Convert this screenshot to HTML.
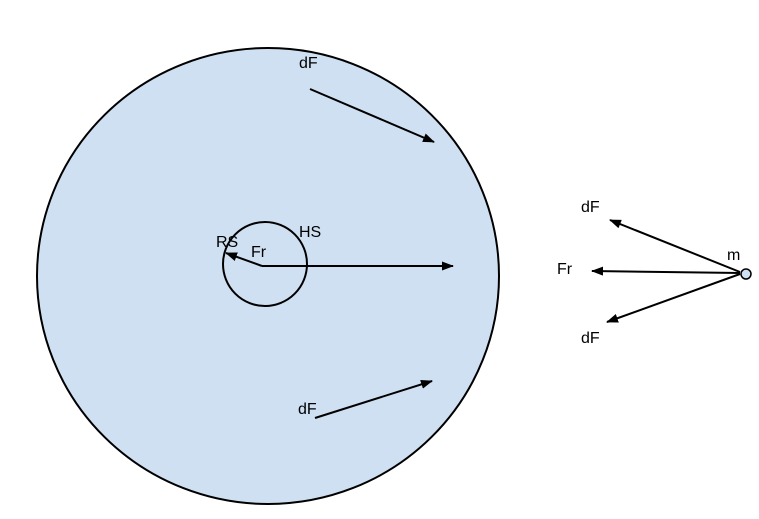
<!DOCTYPE html>
<html><head><meta charset="utf-8"><style>
html,body{margin:0;padding:0;background:#fff;width:759px;height:519px;overflow:hidden}
text{font-family:"Liberation Sans",sans-serif;font-size:16px;fill:#000}
</style></head><body>
<svg width="759" height="519" viewBox="0 0 759 519">
<defs><marker id="a" markerWidth="12" markerHeight="9" refX="11" refY="4.5" orient="auto" markerUnits="userSpaceOnUse"><path d="M0,0 L12,4.5 L0,9 z" fill="#000"/></marker></defs>
<ellipse cx="268" cy="276" rx="231" ry="228" fill="#cfe0f2" stroke="#000" stroke-width="2"/>
<circle cx="265" cy="264" r="42" fill="none" stroke="#000" stroke-width="2"/>
<g stroke="#000" stroke-width="2" fill="none">
<line x1="310" y1="89" x2="434" y2="142" marker-end="url(#a)"/>
<line x1="315" y1="418" x2="432" y2="381" marker-end="url(#a)"/>
<line x1="262" y1="266" x2="453" y2="266" marker-end="url(#a)"/>
<line x1="262" y1="266" x2="226" y2="253" marker-end="url(#a)"/>
<line x1="740" y1="272" x2="610" y2="220" marker-end="url(#a)"/>
<line x1="740" y1="273" x2="592" y2="271" marker-end="url(#a)"/>
<line x1="740" y1="274" x2="607" y2="322" marker-end="url(#a)"/>
</g>
<circle cx="746" cy="274" r="5" fill="#cfe0f2" stroke="#000" stroke-width="1.5"/>
<text x="299" y="68">dF</text>
<text x="298" y="414">dF</text>
<text x="216" y="247">RS</text>
<text x="251" y="257">Fr</text>
<text x="299" y="237">HS</text>
<text x="581" y="212">dF</text>
<text x="557" y="274">Fr</text>
<text x="581" y="343">dF</text>
<text x="727" y="260">m</text>
</svg>
</body></html>
